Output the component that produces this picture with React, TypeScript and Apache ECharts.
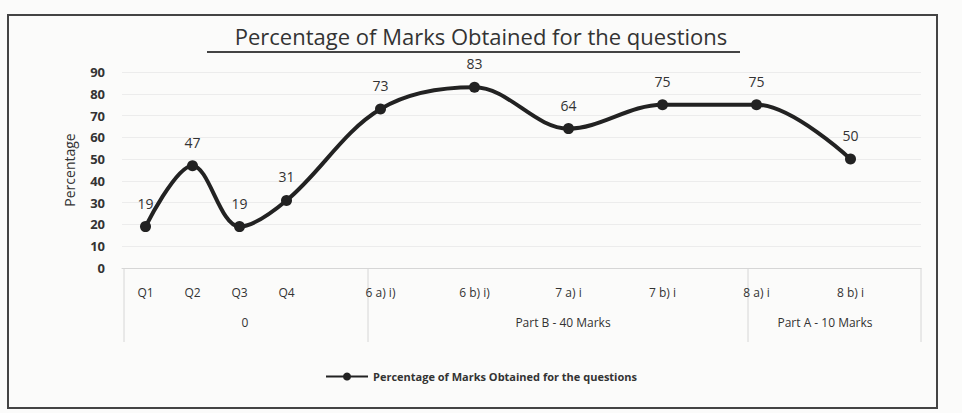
import React, { useEffect, useRef } from "react";
import * as echarts from "echarts";

const questions = ["Q1", "Q2", "Q3", "Q4", "6 a) i)", "6 b) i)", "7 a) i", "7 b) i", "8 a) i", "8 b) i"];
const percentages = [19, 47, 19, 31, 73, 83, 64, 75, 75, 50];
// slot index of each question on the category axis (gaps are empty slots)
const slotIndex = [0, 1, 2, 3, 5, 7, 9, 11, 13, 15];
const slotCount = 17;
const groupNames = ["0", "Part B - 40 Marks", "Part A - 10 Marks"];
const seriesName = "Percentage of Marks Obtained for the questions";
const titleText = "Percentage of Marks Obtained for the questions";

export default function App() {
  const ref = useRef<HTMLDivElement>(null);
  useEffect(() => {
    if (!ref.current) return;
    const chart = echarts.init(ref.current, undefined, { renderer: "svg" });
    const cats: string[] = new Array(slotCount).fill("");
    const vals: (number | null)[] = new Array(slotCount).fill(null);
    questions.forEach((q, i) => {
      cats[slotIndex[i]] = q;
      vals[slotIndex[i]] = percentages[i];
    });
    const font = "'Open Sans', 'Noto Sans', sans-serif";
    const sepColor = "#d6d6d6";
    chart.setOption({
      animation: false,
      backgroundColor: "#fbfbfa",
      textStyle: { fontFamily: font },
      title: {
        text: titleText,
        left: "center",
        top: 20,
        textStyle: { fontSize: 22, fontWeight: "normal", color: "#333", fontFamily: font },
      },
      legend: {
        bottom: 26,
        left: "center",
        itemWidth: 42,
        itemHeight: 10,
        textStyle: { fontSize: 11, fontWeight: "bold", color: "#333" },
        data: [seriesName],
      },
      grid: { left: 122, right: 41, top: 72, bottom: 145 },
      xAxis: {
        type: "category",
        data: cats,
        boundaryGap: true,
        axisLine: { show: true, lineStyle: { color: sepColor } },
        axisTick: { show: false },
        axisLabel: { interval: 0, margin: 18, fontSize: 12, color: "#333" },
      },
      yAxis: {
        type: "value",
        min: 0,
        max: 90,
        interval: 10,
        name: "Percentage",
        nameLocation: "middle",
        nameGap: 46,
        nameTextStyle: { fontSize: 14, color: "#333" },
        axisLine: { show: false },
        axisTick: { show: false },
        axisLabel: { fontSize: 13, color: "#333", margin: 17, fontWeight: "bold" },
        splitLine: { show: true, lineStyle: { color: "#ececec", width: 1 } },
      },
      series: [
        {
          name: seriesName,
          type: "line",
          data: vals,
          connectNulls: true,
          smooth: 0.35,
          symbol: "circle",
          symbolSize: 11,
          lineStyle: { color: "#222", width: 4 },
          itemStyle: { color: "#222" },
          label: {
            show: true,
            position: "top",
            distance: 11,
            fontSize: 14,
            color: "#333",
          },
        },
      ],
      graphic: [
        { type: "rect", shape: { x: 8, y: 15, width: 929, height: 393 }, style: { fill: "none", stroke: "#444", lineWidth: 2 } },
        { type: "line", shape: { x1: 207, y1: 52, x2: 740, y2: 52 }, style: { stroke: "#444", lineWidth: 2 } },
        { type: "line", shape: { x1: 124, y1: 268, x2: 124, y2: 342 }, style: { stroke: sepColor, lineWidth: 1 } },
        { type: "line", shape: { x1: 368, y1: 268, x2: 368, y2: 342 }, style: { stroke: sepColor, lineWidth: 1 } },
        { type: "line", shape: { x1: 748, y1: 268, x2: 748, y2: 342 }, style: { stroke: sepColor, lineWidth: 1 } },
        { type: "line", shape: { x1: 921, y1: 268, x2: 921, y2: 342 }, style: { stroke: sepColor, lineWidth: 1 } },
        { type: "text", x: 245, y: 322, style: { text: groupNames[0], fontSize: 12, fill: "#333", align: "center", verticalAlign: "middle", fontFamily: font } },
        { type: "text", x: 563, y: 322, style: { text: groupNames[1], fontSize: 12, fill: "#333", align: "center", verticalAlign: "middle", fontFamily: font } },
        { type: "text", x: 825, y: 322, style: { text: groupNames[2], fontSize: 12, fill: "#333", align: "center", verticalAlign: "middle", fontFamily: font } },
      ],
    });
    return () => chart.dispose();
  }, []);
  return <div ref={ref} style={{ position: "fixed", left: 0, top: 0, width: 962, height: 413 }} />;
}
